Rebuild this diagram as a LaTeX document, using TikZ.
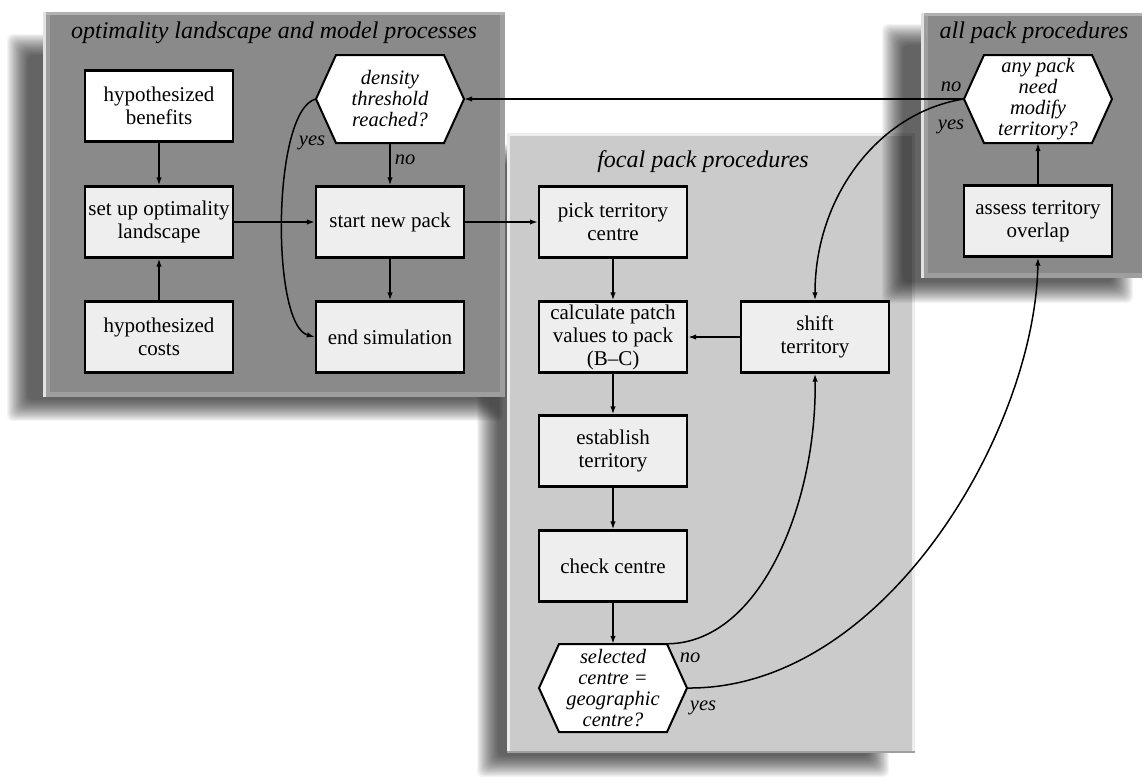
\documentclass[tikz,border=0pt]{standalone}
\usepackage{fontspec}
\setmainfont{Liberation Serif}
\usetikzlibrary{arrows.meta,calc}
\definecolor{darkpanel}{HTML}{8A8A8A}
\definecolor{darkbevel}{HTML}{9E9E9E}
\definecolor{hilite}{HTML}{E2E2E2}
\definecolor{lightpanel}{HTML}{CBCBCB}
\definecolor{lightbevel}{HTML}{EDEDED}
\definecolor{boxfill}{HTML}{EEEEEE}
\tikzset{
 box/.style={draw=black, line width=2.4pt, fill=boxfill, minimum width=148pt, minimum height=71pt, inner sep=0pt, align=center, font=\fontsize{21}{23}\selectfont},
 whitebox/.style={box, fill=white},
 hextext/.style={minimum width=148pt, minimum height=88pt, inner sep=0pt, align=center, font=\fontsize{20.5}{21}\selectfont\itshape},
 hexline/.style={draw=black, line width=2pt, fill=white, line join=miter},
 conn/.style={line width=1.5pt, -{Latex[length=8pt,width=5.5pt]}},
 lbl/.style={font=\fontsize{20.5}{21}\selectfont\itshape, inner sep=0pt},
 paneltitle/.style={font=\fontsize{24}{26}\selectfont\itshape, inner sep=0pt},
}
\newcommand\softshadow[4]{%
  \foreach \k in {0,...,19}{%
    \fill[black,opacity=0.045,rounded corners=6pt] (#1+\k*1.1-11,#2+\k*1.1-11) rectangle (#3-\k*1.1+11,#4-\k*1.1+11);}}
\newcommand\hexat[2]{%
  \filldraw[hexline] (#1-74,#2) -- (#1-54,#2-44) -- (#1+54,#2-44) -- (#1+74,#2) -- (#1+54,#2+44) -- (#1-54,#2+44) -- cycle;}
\begin{document}
\begin{tikzpicture}[x=1pt,y=-1pt]
\useasboundingbox (0,0) rectangle (1145,780);
\fill[white] (0,0) rectangle (1145,780);
% focal panel
\softshadow{488}{155}{878}{766}
\fill[lightpanel] (507,133) rectangle (915,753);
\draw[lightbevel, line width=3pt] (508.5,753) -- (508.5,134.5) -- (913.5,134.5) -- (913.5,753);
\draw[gray!75, line width=1.5pt] (507,752) -- (915,752);
% optimality panel
\softshadow{18}{45}{492}{410}
\fill[darkpanel] (43,12) rectangle (505,397);
\draw[darkbevel, line width=5pt] (47,14) -- (47,394.5) -- (502.5,394.5) -- (502.5,14);
\draw[darkbevel!80!white, line width=3pt] (43,13.5) -- (505,13.5);
\draw[hilite, line width=2.5pt] (44.25,12) -- (44.25,397);
% all pack panel
\softshadow{893}{35}{1122}{292}
\fill[darkpanel] (921,13) rectangle (1142,278);
\draw[darkbevel, line width=5pt] (925,15) -- (925,275.5) -- (1142,275.5);
\draw[darkbevel!80!white, line width=3pt] (921,14.5) -- (1142,14.5);
\draw[hilite, line width=2.5pt] (922.25,13) -- (922.25,278);
% titles
\node[paneltitle] (t1) at (274,33) {optimality landscape and model processes};
\node[paneltitle] (t2) at (703,162) {focal pack procedures};
\node[paneltitle] (t3) at (1034,33) {all pack procedures};
% hexagons
\hexat{390}{99}
\node[hextext] (dens) at (390,99) {density\\threshold\\reached?};
\hexat{1038}{99}
\node[hextext] (anyp) at (1038,99) {any pack\\need\\modify\\territory?};
\hexat{613}{688}
\node[hextext] (sel) at (613,688) {selected\\centre =\\geographic\\centre?};
% boxes
\node[whitebox] (ben) at (159,106) {hypothesized\\benefits};
\node[box] (setup) at (159,222) {set up optimality\\landscape};
\node[box] (costs) at (159,337) {hypothesized\\costs};
\node[box] (start) at (390,222) {start new pack};
\node[box] (endsim) at (390,337) {end simulation};
\node[box] (pick) at (613,222) {pick territory\\centre};
\node[box] (calc) at (613,337) {calculate patch\\values to pack\\(B--C)};
\node[box] (shift) at (815,337) {shift\\territory};
\node[box] (estab) at (613,451) {establish\\territory};
\node[box] (check) at (613,566) {check centre};
\node[box] (assess) at (1038,221) {assess territory\\overlap};
% connectors
\draw[conn] (ben) -- (setup);
\draw[conn] (costs) -- (setup);
\draw[conn] (setup) -- (start);
\draw[conn] (dens) -- (start);
\draw[conn] (start) -- (endsim);
\draw[conn] (start) -- (pick);
\draw[conn] (pick) -- (calc);
\draw[conn] (calc) -- (estab);
\draw[conn] (estab) -- (check);
\draw[conn] (check) -- (sel);
\draw[conn] (shift) -- (calc);
\draw[conn] (assess) -- (anyp);
\draw[conn] (anyp.west) -- (dens.east);
\draw[conn] (dens.west) .. controls +(-44,11) and +(-44,-12) .. (endsim.west);
\draw[conn] (anyp.west) .. controls (880,112) and (815,195) .. (shift.north);
\coordinate (selne) at ($(sel.north east)+(-20,0)$);
\draw[conn] (selne) .. controls (762,643) and (817,500) .. (shift.south);
\draw[conn] (sel.east) .. controls (885,690) and (1035,430) .. (assess.south);
% labels
\node[lbl] (l1) at (405,160) {no};
\node[lbl] (l2) at (312,143) {yes};
\node[lbl] (l3) at (951,87) {no};
\node[lbl] (l4) at (951,127) {yes};
\node[lbl] (l5) at (690,658) {no};
\node[lbl] (l6) at (703,708) {yes};
\end{tikzpicture}
\end{document}
